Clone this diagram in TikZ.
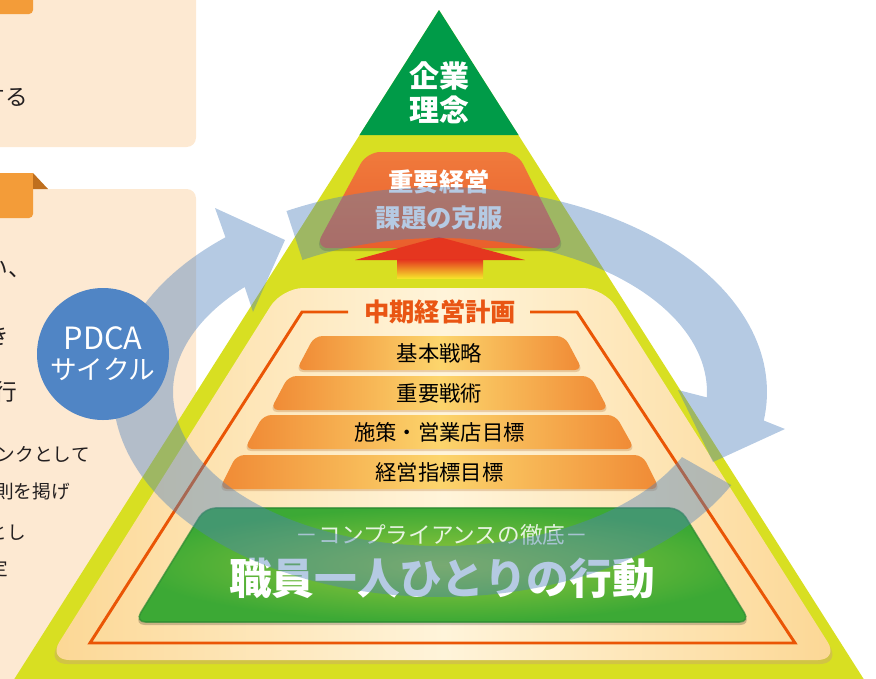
\documentclass[tikz,border=0pt]{standalone}
\usepackage{fontspec}
\setmainfont{Noto Sans CJK JP}
\definecolor{yg}{HTML}{D8DF22}
\definecolor{topgreen}{HTML}{009B48}
\definecolor{peachE}{HTML}{FCD794}
\definecolor{peachC}{HTML}{FFF4DA}
\definecolor{peachEdge}{HTML}{C9A471}
\definecolor{frameorange}{HTML}{EA5505}
\definecolor{titleorange}{HTML}{E95513}
\definecolor{boxorangeT}{HTML}{F07A3C}
\definecolor{boxorangeB}{HTML}{EA5F2C}
\definecolor{arrred}{HTML}{E5361F}
\definecolor{arryellow}{HTML}{F6E22A}
\definecolor{bandO}{HTML}{F08A35}
\definecolor{bandY}{HTML}{FCD56C}
\definecolor{greenO}{HTML}{3CA935}
\definecolor{greenI}{HTML}{97C83C}
\definecolor{greenEdge}{HTML}{2C8A32}
\definecolor{leftbox}{HTML}{FDE9D2}
\definecolor{taborange}{HTML}{F39C39}
\definecolor{foldbrown}{HTML}{BF6F1E}
\definecolor{pdcablue}{HTML}{5085C5}
\definecolor{bandblue}{HTML}{4F81BD}
\definecolor{txtgray}{HTML}{231F20}
\tikzset{
  lefttxt/.style={anchor=east, text=txtgray, inner sep=0pt},
  bandtxt/.style={text=black, inner sep=0pt, font=\fontsize{16}{18}\selectfont},
  stepband/.style={rounded corners=6pt, left color=bandO, right color=bandO, middle color=bandY},
  loopband/.style={fill=bandblue, fill opacity=0.42},
}
\begin{document}
\begin{tikzpicture}[x=0.75pt,y=-0.75pt]
\useasboundingbox (0,0) rectangle (876,679);
% ---------- left boxes ----------
\fill[leftbox, rounded corners=7pt] (-20,-20) rectangle (196,147);
\fill[taborange, rounded corners=3pt] (-20,-20) rectangle (33,14);
\node[lefttxt, font=\fontsize{17}{19}\selectfont] (t1) at (28,97) {する};
\fill[leftbox, rounded corners=7pt] (-20,189) rectangle (196,720);
\fill[taborange] (-20,173) -- (33,173) [rounded corners=3pt] -- (33,218) -- (-20,218) -- cycle;
\fill[foldbrown] (33,173) -- (48,189) -- (33,189) -- cycle;
\node[lefttxt, font=\fontsize{17}{19}\selectfont] (t2) at (31,268) {しい、};
\node[lefttxt, font=\fontsize{17}{19}\selectfont] (t3) at (9,336) {おき};
\node[lefttxt, font=\fontsize{17}{19}\selectfont] (t4) at (17,392) {実行};
\node[lefttxt, font=\fontsize{14}{16}\selectfont] (t5) at (90,454) {ランクとして};
\node[lefttxt, font=\fontsize{14}{16}\selectfont] (t6) at (70,491) {規則を掲げ};
\node[lefttxt, font=\fontsize{14}{16}\selectfont] (t7) at (26,533) {をとし};
\node[lefttxt, font=\fontsize{14}{16}\selectfont] (t8) at (8,568) {規定};
% ---------- pyramid ----------
\fill[yg] (439,10) -- (877,700) -- (1,700) -- cycle;
\fill[topgreen] (439,10) -- (518.5,135) -- (359.5,135) -- cycle;
\node[align=center, text=white, font=\bfseries\fontsize{22.5}{25.5}\selectfont, inner sep=0pt] (rinen) at (439,93) {企業\\理念};
% top orange box
\fill[black, opacity=0.18, rounded corners=10pt] (367,155) -- (517,155) -- (566,251) -- (314,251) -- cycle;
\shade[rounded corners=10pt, top color=boxorangeT, bottom color=boxorangeB] (367,152) -- (517,152) -- (565,248) -- (315,248) -- cycle;
\node[text=white, font=\bfseries\fontsize{19}{21}\selectfont, inner sep=0pt] (kadai1) at (439,182) {重要経営};
\node[text=white, font=\bfseries\fontsize{19}{21}\selectfont, inner sep=0pt] (kadai2) at (439,218) {課題の克服};
% red arrow
\fill[arrred] (439,237) -- (525,260) -- (355,260) -- cycle;
\shade[top color=arrred, bottom color=arryellow] (397,259.5) rectangle (483,278);
% peach region
\fill[peachEdge, opacity=0.45, rounded corners=16pt] (282,292) -- (604,292) -- (841,664) -- (46,664) -- cycle;
\shade[rounded corners=16pt, left color=peachE, right color=peachE, middle color=peachC] (282,288) -- (604,288) -- (839,660) -- (48,660) -- cycle;
\draw[frameorange, line width=2.2pt, line join=miter] (348,312) -- (302,312) -- (90,643) -- (795,643) -- (577,312) -- (530,312);
\node[text=titleorange, font=\bfseries\fontsize{19}{21}\selectfont, inner sep=0pt] (plan) at (440,312) {中期経営計画};
% steps
\fill[bandO!70!black, opacity=0.25, rounded corners=6pt] (314.5,338) -- (564.5,338) -- (583.5,372) -- (295.5,372) -- cycle;
\shade[stepband] (314.5,336) -- (564.5,336) -- (582.5,370) -- (296.5,370) -- cycle;
\node[bandtxt] (s1) at (439.5,353) {基本戦略};
\fill[bandO!70!black, opacity=0.25, rounded corners=6pt] (288.5,378) -- (590.5,378) -- (609.5,412) -- (269.5,412) -- cycle;
\shade[stepband] (288.5,376) -- (590.5,376) -- (608.5,410) -- (270.5,410) -- cycle;
\node[bandtxt] (s2) at (439.5,393) {重要戦術};
\fill[bandO!70!black, opacity=0.25, rounded corners=6pt] (263.5,417) -- (615.5,417) -- (635.5,451) -- (243.5,451) -- cycle;
\shade[stepband] (263.5,415) -- (615.5,415) -- (634.5,449) -- (244.5,449) -- cycle;
\node[bandtxt] (s3) at (439.5,432) {施策・営業店目標};
\fill[bandO!70!black, opacity=0.25, rounded corners=6pt] (236.5,457) -- (642.5,457) -- (660.5,491) -- (218.5,491) -- cycle;
\shade[stepband] (236.5,455) -- (642.5,455) -- (659.5,489) -- (219.5,489) -- cycle;
\node[bandtxt] (s4) at (439.5,472) {経営指標目標};
% green box
\fill[black, opacity=0.2, rounded corners=8pt] (205,511) -- (680,511) -- (751,625) -- (134,625) -- cycle;
\shade[rounded corners=8pt, inner color=greenI, outer color=greenO] (205,508) -- (680,508) -- (750,622) -- (135,622) -- cycle;
\draw[greenEdge, line width=1.2pt, rounded corners=8pt, opacity=0.7] (205,508) -- (680,508) -- (750,622) -- (135,622) -- cycle;
\node[text=white, text opacity=0.85, font=\fontsize{17}{19}\selectfont, inner sep=0pt] (comp) at (442,535) {－コンプライアンスの徹底－};
\node[text=white, font=\bfseries\fontsize{32}{34}\selectfont, inner sep=0pt] (action) at (442,578) {職員一人ひとりの行動};
% ---------- PDCA loop ----------
\fill[loopband] plot[domain=118:-8, samples=80, variable=\t] ({440+327*cos(\t)},{392-205*sin(\t)})
  -- (785,429) -- (713,462) -- (678,390)
  -- plot[domain=-2:121, samples=80, variable=\t] ({440+267*cos(\t)},{392-154*sin(\t)}) -- cycle;
\fill[loopband] plot[domain=-27:-229, samples=120, variable=\t] ({440+327*cos(\t)},{392-205*sin(\t)})
  -- (215,208) -- (285,240) -- (253,312)
  -- plot[domain=-223:-25, samples=120, variable=\t] ({440+267*cos(\t)},{392-154*sin(\t)}) -- cycle;
% PDCA circle
\node[circle, fill=pdcablue, minimum size=99pt, inner sep=0pt] (pdca) at (103,354) {};
\node[text=white, font=\fontsize{23}{25}\selectfont, inner sep=0pt] (pdcaA) at (103,338) {PDCA};
\node[text=white, font=\fontsize{20}{22}\selectfont, inner sep=0pt] (pdcaB) at (103,369) {サイクル};
\end{tikzpicture}
\end{document}
